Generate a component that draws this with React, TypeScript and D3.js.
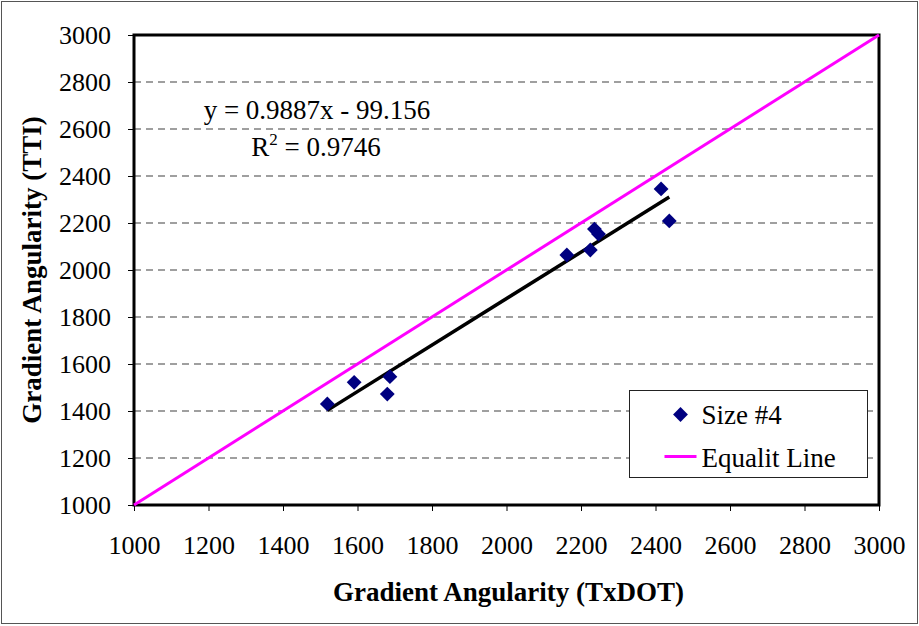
import React, { useEffect, useRef } from "react";
import * as d3 from "d3";

// Gradient angularity measured by TxDOT vs TTI, Size #4 aggregate
const txdot = [1519, 1591, 1687, 1680, 2162, 2225, 2236, 2247, 2415, 2437];
const tti = [1430, 1522, 1546, 1472, 2064, 2085, 2174, 2153, 2345, 2209];

const xTicks = [1000, 1200, 1400, 1600, 1800, 2000, 2200, 2400, 2600, 2800, 3000];
const yTicks = [1000, 1200, 1400, 1600, 1800, 2000, 2200, 2400, 2600, 2800, 3000];

// Linear fit reported on the chart
const slope = 0.9887;
const intercept = -99.156;
const rSquared = "0.9746";

const seriesName = "Size #4";
const equalityName = "Equalit Line";

const W = 919;
const H = 626;
const M = { left: 134, right: 879, top: 35, bottom: 505 };
const FONT = "'Liberation Serif', 'Times New Roman', serif";

export default function App() {
  const ref = useRef<SVGSVGElement>(null);

  useEffect(() => {
    const svg = d3.select(ref.current);
    svg.selectAll("*").remove();

    const x = d3.scaleLinear().domain([1000, 3000]).range([M.left, M.right]);
    const y = d3.scaleLinear().domain([1000, 3000]).range([M.bottom, M.top]);

    svg.append("rect").attr("width", W).attr("height", H).attr("fill", "#fff");
    svg
      .append("rect")
      .attr("x", 1.5)
      .attr("y", 1.5)
      .attr("width", W - 3)
      .attr("height", H - 4)
      .attr("fill", "none")
      .attr("stroke", "#555")
      .attr("stroke-width", 1);

    // dashed horizontal gridlines
    svg
      .append("g")
      .selectAll("line")
      .data(yTicks.filter((t) => t > 1000 && t < 3000))
      .join("line")
      .attr("x1", M.left)
      .attr("x2", M.right)
      .attr("y1", (d) => y(d))
      .attr("y2", (d) => y(d))
      .attr("stroke", "#808080")
      .attr("stroke-width", 1.5)
      .attr("stroke-dasharray", "7,5");

    // axes
    const xAxis = d3
      .axisBottom(x)
      .tickValues(xTicks)
      .tickSize(6)
      .tickPadding(25)
      .tickFormat(d3.format("d"));
    const gx = svg.append("g").attr("transform", `translate(0,${M.bottom})`).call(xAxis);
    const yAxis = d3
      .axisLeft(y)
      .tickValues(yTicks)
      .tickSize(6)
      .tickPadding(17)
      .tickFormat(d3.format("d"));
    const gy = svg.append("g").attr("transform", `translate(${M.left},0)`).call(yAxis);
    [gx, gy].forEach((g) => {
      g.select(".domain").remove();
      g.selectAll("line").attr("stroke", "#000").attr("stroke-width", 1);
      g.selectAll("text")
        .attr("font-family", FONT)
        .attr("font-size", 26)
        .attr("fill", "#000");
    });

    // plot frame
    svg
      .append("rect")
      .attr("x", M.left)
      .attr("y", M.top)
      .attr("width", M.right - M.left)
      .attr("height", M.bottom - M.top)
      .attr("fill", "none")
      .attr("stroke", "#000")
      .attr("stroke-width", 3);

    // equality line
    svg
      .append("line")
      .attr("x1", x(1000))
      .attr("y1", y(1000))
      .attr("x2", x(3000))
      .attr("y2", y(3000))
      .attr("stroke", "#ff00ff")
      .attr("stroke-width", 3);

    // trend line over the measured range
    const [xmin, xmax] = d3.extent(txdot) as [number, number];
    svg
      .append("line")
      .attr("x1", x(xmin))
      .attr("y1", y(slope * xmin + intercept))
      .attr("x2", x(xmax))
      .attr("y2", y(slope * xmax + intercept))
      .attr("stroke", "#000")
      .attr("stroke-width", 3.5);

    const diamond = d3.symbol().type(d3.symbolSquare).size(110);
    svg
      .append("g")
      .selectAll("path")
      .data(txdot.map((v, i) => [v, tti[i]]))
      .join("path")
      .attr("d", diamond)
      .attr("transform", (d) => `translate(${x(d[0])},${y(d[1])}) rotate(45)`)
      .attr("fill", "#000080");

    // regression annotation
    svg
      .append("text")
      .attr("x", 317)
      .attr("y", 119)
      .attr("text-anchor", "middle")
      .attr("font-family", FONT)
      .attr("font-size", 27)
      .text(`y = ${slope}x - ${Math.abs(intercept)}`);
    const r2 = svg
      .append("text")
      .attr("x", 316)
      .attr("y", 156)
      .attr("text-anchor", "middle")
      .attr("font-family", FONT)
      .attr("font-size", 27);
    r2.append("tspan").text("R");
    r2.append("tspan").attr("font-size", 17).attr("dy", -11).text("2");
    r2.append("tspan").attr("dy", 11).text(` = ${rSquared}`);

    // legend
    const lg = svg.append("g").attr("transform", "translate(629.5,390.5)");
    lg.append("rect")
      .attr("width", 238)
      .attr("height", 87)
      .attr("fill", "#fff")
      .attr("stroke", "#222")
      .attr("stroke-width", 1);
    lg.append("path")
      .attr("d", diamond)
      .attr("transform", "translate(51,24) rotate(45)")
      .attr("fill", "#000080");
    lg.append("text")
      .attr("x", 72)
      .attr("y", 33)
      .attr("font-family", FONT)
      .attr("font-size", 27)
      .text(seriesName);
    lg.append("line")
      .attr("x1", 35)
      .attr("x2", 67)
      .attr("y1", 66)
      .attr("y2", 66)
      .attr("stroke", "#ff00ff")
      .attr("stroke-width", 3);
    lg.append("text")
      .attr("x", 72)
      .attr("y", 76)
      .attr("font-family", FONT)
      .attr("font-size", 27)
      .text(equalityName);

    // axis titles
    svg
      .append("text")
      .attr("x", (M.left + M.right) / 2 + 2)
      .attr("y", 601)
      .attr("text-anchor", "middle")
      .attr("font-family", FONT)
      .attr("font-weight", "bold")
      .attr("font-size", 27)
      .text("Gradient Angularity (TxDOT)");
    svg
      .append("text")
      .attr("transform", `translate(41,${(M.top + M.bottom) / 2}) rotate(-90)`)
      .attr("text-anchor", "middle")
      .attr("font-family", FONT)
      .attr("font-weight", "bold")
      .attr("font-size", 27)
      .text("Gradient Angularity (TTI)");
  }, []);

  return (
    <svg
      ref={ref}
      width={W}
      height={H}
      style={{ position: "absolute", left: 0, top: 0, display: "block" }}
    />
  );
}
